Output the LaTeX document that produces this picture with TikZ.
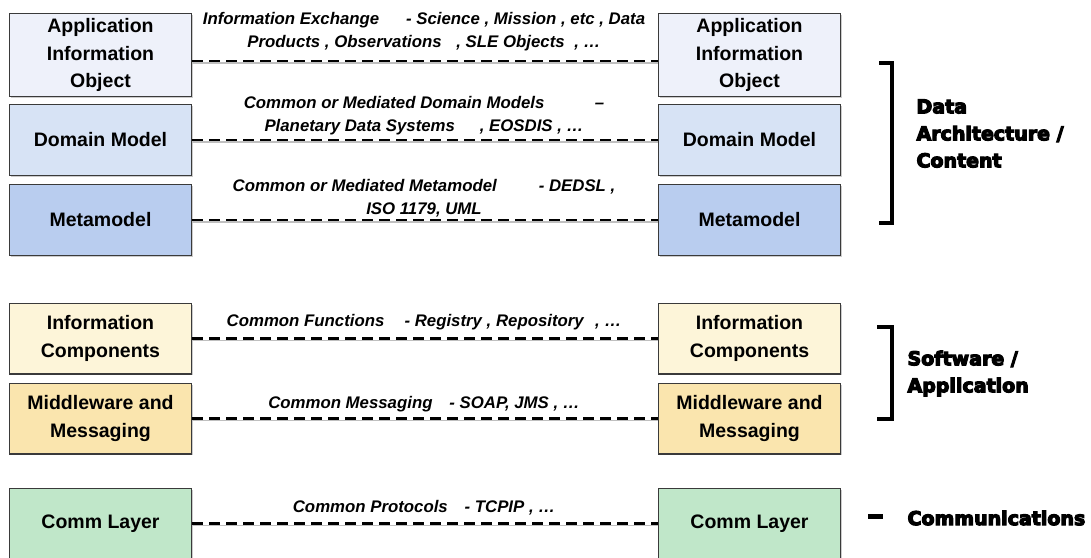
\documentclass[tikz,border=0pt]{standalone}
\usepackage{fontspec}
\setmainfont{Liberation Sans}
\newfontfamily\heavyfont{DejaVu Sans}[UprightFont={* Bold}, FakeBold=6]
\usetikzlibrary{positioning,shadows}

\definecolor{boxline}{HTML}{3A3A3A}
\definecolor{aiofill}{HTML}{EEF1FA}
\definecolor{domfill}{HTML}{D7E3F5}
\definecolor{metafill}{HTML}{B9CDEF}
\definecolor{inffill}{HTML}{FDF5D9}
\definecolor{midfill}{HTML}{FAE5AE}
\definecolor{commfill}{HTML}{C0E7C9}

\tikzset{
  layer/.style={draw=boxline, line width=1.2pt, minimum width=181.8pt, minimum height=70.8pt,
    inner sep=0pt, align=center, font=\fontsize{19.5}{27.5}\selectfont\bfseries,
    drop shadow={shadow xshift=1.5pt, shadow yshift=-1.5pt, fill=black!40, opacity=.5}},
  link/.style={line width=2.6pt, dash pattern=on 11pt off 6pt},
  linkshade/.style={line width=1.2pt, color=black!25},
  note/.style={align=center, font=\fontsize{16.8}{23}\selectfont\bfseries\itshape},
  group/.style={anchor=west, align=left, font=\heavyfont\fontsize{19}{27}\selectfont},
  brace/.style={line width=4pt, line cap=butt, line join=miter}
}

\begin{document}
\begin{tikzpicture}[x=1pt, y=-1pt]
\useasboundingbox (0,0) rectangle (1091,557);

% left column
\node (aioL) [layer, fill=aiofill, minimum height=82.8pt] at (100.5,55) {Application\\Information\\Object};
\node (domL) [layer, fill=domfill] at (100.5,140) {Domain Model};
\node (metaL) [layer, fill=metafill] at (100.5,220) {Metamodel};
\node (infL) [layer, fill=inffill] at (100.5,338.5) {Information\\Components};
\node (midL) [layer, fill=midfill] at (100.5,418.5) {Middleware and\\Messaging};
\node (commL) [layer, fill=commfill] at (100.5,523.5) {Comm Layer};

% right column
\node (aioR) [layer, fill=aiofill, minimum height=82.8pt, right=466pt of aioL] {Application\\Information\\Object};
\node (domR) [layer, fill=domfill, right=466pt of domL] {Domain Model};
\node (metaR) [layer, fill=metafill, right=466pt of metaL] {Metamodel};
\node (infR) [layer, fill=inffill, right=466pt of infL] {Information\\Components};
\node (midR) [layer, fill=midfill, right=466pt of midL] {Middleware and\\Messaging};
\node (commR) [layer, fill=commfill, right=466pt of commL] {Comm Layer};

% dashed peer links
\draw[linkshade] ([yshift=-8pt]aioL.east) -- ([yshift=-8pt]aioR.west);
\draw[link] ([yshift=-6pt]aioL.east) -- ([yshift=-6pt]aioR.west);
\foreach \a/\b in {domL/domR, metaL/metaR, infL/infR, midL/midR, commL/commR} {
  \draw[linkshade] ([yshift=-2pt]\a.east) -- ([yshift=-2pt]\b.west);
  \draw[link] (\a.east) -- (\b.west);
}

% link labels
\node (aioLbl) [note] at (424,32) {Information Exchange\hspace{1.6em}- Science , Mission , etc , Data\\Products , Observations\hspace{0.6em} , SLE Objects\hspace{0.3em} , \ldots};
\node (domLbl) [note] at (424,115.5) {Common or Mediated Domain Models\hspace{3em}--\\Planetary Data Systems\hspace{1.2em} , EOSDIS , \ldots};
\node (metaLbl) [note] at (424,198) {Common or Mediated Metamodel\hspace{2.5em}- DEDSL ,\\ISO 1179, UML};
\node (infLbl) [note] at (424,322.5) {Common Functions\hspace{1.2em}- Registry , Repository\hspace{0.4em} , \ldots};
\node (midLbl) [note] at (424,404.5) {Common Messaging\hspace{1em}- SOAP, JMS , \ldots};
\node (commLbl) [note] at (424,507.5) {Common Protocols\hspace{1em}- TCPIP , \ldots};

% groups
\draw[brace] (879,63) -- (892,63) -- (892,223) -- (879,223);
\draw[brace] (877,327) -- (892,327) -- (892,419) -- (877,419);
\draw[line width=5pt] (868,516) -- (883,516);
\node (dataGrp) [group] at (913,133.5) {Data\\Architecture /\\Content};
\node (swGrp) [group] at (904,373.5) {Software /\\Application};
\node (commGrp) [group] at (904,518) {Communications};
\end{tikzpicture}
\end{document}
